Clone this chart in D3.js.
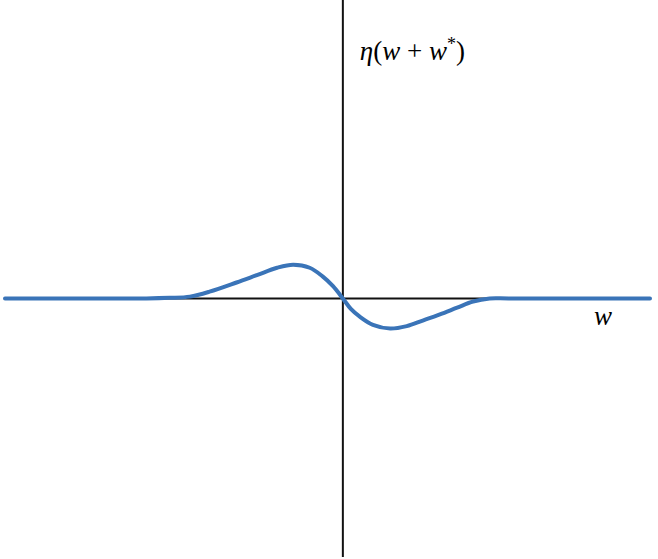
<!DOCTYPE html>
<html>
<head>
<meta charset="utf-8">
<script src="https://cdn.jsdelivr.net/npm/d3@7"></script>
<style>
  body { margin: 0; background: #fff; }
  .lbl { font-family: "Liberation Serif", "DejaVu Serif", serif; font-size: 27px; fill: #000; }
</style>
</head>
<body>
<div id="chart"></div>
<script>
// Curve samples (w, eta)
var wValues   = [-5.5, -3.2, -2.82, -2.49, -2.17, -1.73, -1.40, -1.07, -0.81, -0.54, -0.33, -0.16, 0,
                 0.13, 0.28, 0.49, 0.77, 1.04, 1.30, 1.58, 1.86, 2.12, 2.39, 2.7, 5.0];
var etaValues = [0, 0, 0.01, 0.03, 0.11, 0.26, 0.38, 0.50, 0.55, 0.50, 0.36, 0.20, 0,
                 -0.17, -0.30, -0.43, -0.49, -0.45, -0.36, -0.26, -0.15, -0.05, 0, 0, 0];

// Axis extents
var xDomain = [-5.5, 5.0];
var yDomain = [-4.21, 4.86];

var svgWidth = 658;
var svgHeight = 559;

var svg = d3.select("#chart")
    .append("svg")
    .attr("width", svgWidth)
    .attr("height", svgHeight);

var xScale = d3.scaleLinear().domain(xDomain).range([5, 650]);
var yScale = d3.scaleLinear().domain(yDomain).range([557, 0]);

// horizontal axis
svg.append("line")
    .attr("x1", xScale(xDomain[0])).attr("x2", xScale(xDomain[1]))
    .attr("y1", yScale(0)).attr("y2", yScale(0))
    .attr("stroke", "#111").attr("stroke-width", 2);

// vertical axis
svg.append("line")
    .attr("x1", xScale(0)).attr("x2", xScale(0))
    .attr("y1", yScale(yDomain[1])).attr("y2", yScale(yDomain[0]))
    .attr("stroke", "#111").attr("stroke-width", 2);

var pts = wValues.map((w, i) => [w, etaValues[i]]);

var line = d3.line()
    .x(d => xScale(d[0]))
    .y(d => yScale(d[1]))
    .curve(d3.curveCatmullRom.alpha(0.5));

svg.append("path")
    .datum(pts)
    .attr("d", line)
    .attr("fill", "none")
    .attr("stroke", "#3a74b8")
    .attr("stroke-width", 4)
    .attr("stroke-linecap", "round");

// labels
var yLabel = svg.append("text").attr("class", "lbl")
    .attr("x", xScale(0) + 17).attr("y", 60);
yLabel.append("tspan").attr("font-style", "italic").text("η");
yLabel.append("tspan").text("(");
yLabel.append("tspan").attr("font-style", "italic").text("w");
yLabel.append("tspan").text(" + ");
yLabel.append("tspan").attr("font-style", "italic").text("w");
yLabel.append("tspan").attr("font-size", "18px").attr("dy", -10).text("*");
yLabel.append("tspan").attr("dy", 10).text(")");

svg.append("text").attr("class", "lbl")
    .attr("x", 594).attr("y", 325)
    .attr("font-style", "italic")
    .text("w");
</script>
</body>
</html>
